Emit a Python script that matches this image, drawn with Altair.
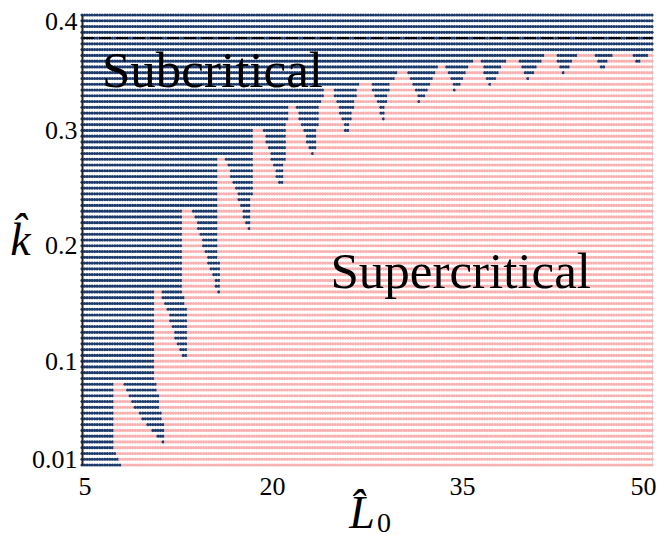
import altair as alt
import numpy as np
import pandas as pd

# ---- sampling grid of the parameter study ----
L0_start, L0_stop, L0_step = 5.0, 50.0, 0.2
k_start, k_stop, k_step = 0.01, 0.40, 0.005

# ---- boundary of the supercritical region ----
boundary_L = [8.30, 7.75, 7.50, 7.53, 8.16, 9.20, 9.90, 11.60, 11.35, 10.95, 10.61,
              10.61, 11.16, 12.50, 13.80, 13.40, 13.37, 13.13, 12.89,
              12.89, 13.68, 15.90, 15.90, 15.66,
              15.66, 16.29, 18.30, 18.42,
              18.50, 19.21, 20.75, 21.00, 21.18,
              21.26, 21.82, 23.30, 23.79,
              24.18, 24.74, 25.95, 26.71,
              27.10, 27.74, 28.80, 29.32,
              30.10, 30.66, 31.65, 33.00,
              33.10, 33.66, 34.45, 35.55,
              36.10, 36.34, 37.21,
              38.55, 39.34, 40.21, 41.39,
              41.79, 42.34, 42.89,
              44.32, 45.34, 46.05,
              47.08, 48.26, 48.89,
              49.84, 50.50, 50.50]
boundary_k = [0.005, 0.0175, 0.030, 0.0825, 0.0825, 0.059, 0.047, 0.0275, 0.050, 0.075, 0.095,
              0.1625, 0.1625, 0.1157, 0.0875, 0.100, 0.140, 0.150, 0.165,
              0.2325, 0.2325, 0.1525, 0.185, 0.192,
              0.2775, 0.2775, 0.2075, 0.250,
              0.3025, 0.3025, 0.2475, 0.270, 0.300,
              0.3225, 0.3225, 0.2725, 0.320,
              0.3375, 0.3375, 0.2925, 0.335,
              0.3425, 0.3425, 0.3075, 0.340,
              0.3525, 0.3525, 0.3225, 0.350,
              0.3575, 0.3575, 0.3325, 0.355,
              0.3625, 0.3625, 0.3375,
              0.3625, 0.3625, 0.3425, 0.3625,
              0.3675, 0.3675, 0.3475,
              0.3675, 0.3675, 0.3525,
              0.3675, 0.3675, 0.3575,
              0.3675, 0.3675, 0.005]

critical_k = [0.38]
region_names = ["Subcritical", "Supercritical"]
region_colors = ["#1b3a6b", "#f9b0b0"]
label_text = ["Subcritical", "Supercritical"]
label_L = [15.3, 34.9]
label_k = [0.3376, 0.1634]

x_ticks = [5, 20, 35, 50]
y_ticks = [0.01, 0.1, 0.2, 0.3, 0.4]
x_title_main = ["L\u0302"]
x_title_sub = ["0"]

# ---- classify grid points ----
L_vals = np.round(np.arange(L0_start, L0_stop + 1e-9, L0_step), 3)
k_vals = np.round(np.arange(k_start, k_stop + 1e-9, k_step), 4)
LL, KK = np.meshgrid(L_vals, k_vals)
px, py = LL.ravel(), KK.ravel()
bx, by = np.array(boundary_L), np.array(boundary_k)
inside = np.zeros(px.shape, dtype=bool)
j = len(bx) - 1
for i in range(len(bx)):
    xi, yi, xj, yj = bx[i], by[i], bx[j], by[j]
    cond = ((yi > py) != (yj > py)) & (px < (xj - xi) * (py - yi) / (yj - yi) + xi)
    inside ^= cond
    j = i

grid = pd.DataFrame({
    "L0": px,
    "k": py,
    "regime": np.where(inside, region_names[1], region_names[0]),
})

xscale = alt.Scale(domain=[L0_start, L0_stop], nice=False, zero=False)
yscale = alt.Scale(domain=[k_start, k_stop], nice=False, zero=False)

FONT = "Liberation Serif"

points = alt.Chart(grid).mark_circle(size=10, opacity=1, strokeWidth=0).encode(
    x=alt.X("L0:Q", scale=xscale,
            axis=alt.Axis(values=x_ticks, title="", ticks=False,
                          domain=True, domainColor="#888888", domainWidth=0.8,
                          labelPadding=8, labelFontSize=26, labelFont=FONT,
                          labelColor="black", grid=False,
                          labelFlush=True, labelFlushOffset=4)),
    y=alt.Y("k:Q", scale=yscale,
            axis=alt.Axis(values=y_ticks, format="~g", title="k\u0302", ticks=False,
                          domain=True, domainColor="#222222", domainWidth=2, zindex=1,
                          labelPadding=5, labelFontSize=26, labelFont=FONT,
                          labelColor="black", grid=False,
                          labelFlush=True, labelFlushOffset=7,
                          titleFont=FONT, titleFontSize=46, titleFontStyle="italic",
                          titleFontWeight="normal", titleColor="black",
                          titleAngle=0, titleX=-62, titleY=225,
                          titleAlign="center", titleBaseline="middle")),
    color=alt.Color("regime:N", scale=alt.Scale(domain=region_names, range=region_colors),
                    legend=None),
)

crit = pd.DataFrame({"x": [L0_start], "x2": [L0_stop], "k": critical_k})
rule = alt.Chart(crit).mark_rule(color="black", strokeWidth=2, strokeDash=[12, 5]).encode(
    x=alt.X("x:Q", scale=xscale), x2="x2:Q", y=alt.Y("k:Q", scale=yscale)
)

labels = pd.DataFrame({"L0": label_L, "k": label_k, "text": label_text})
texts = alt.Chart(labels).mark_text(font=FONT, fontSize=51, color="black",
                                    align="center", baseline="alphabetic").encode(
    x=alt.X("L0:Q", scale=xscale), y=alt.Y("k:Q", scale=yscale), text="text:N"
)

# x-axis title: italic L with hat and an upright subscript 0
title_df = pd.DataFrame({"main": x_title_main, "sub": x_title_sub})
xtitle_main = alt.Chart(title_df).mark_text(
    font=FONT, fontSize=46, fontStyle="italic", color="black",
    align="center", baseline="alphabetic"
).encode(x=alt.value(280), y=alt.value(513), text="main:N")
xtitle_sub = alt.Chart(title_df).mark_text(
    font=FONT, fontSize=28, color="black", align="center", baseline="alphabetic"
).encode(x=alt.value(302), y=alt.value(517), text="sub:N")

chart = alt.layer(points, rule, texts, xtitle_main, xtitle_sub).properties(
    width=570, height=450,
    autosize=alt.AutoSizeParams(type="none"),
    padding={"left": 74, "top": 7, "right": 4, "bottom": 74},
).configure_view(stroke=None).configure(background="white")

chart.save("out.html", embed_options={"renderer": "svg", "actions": False})
